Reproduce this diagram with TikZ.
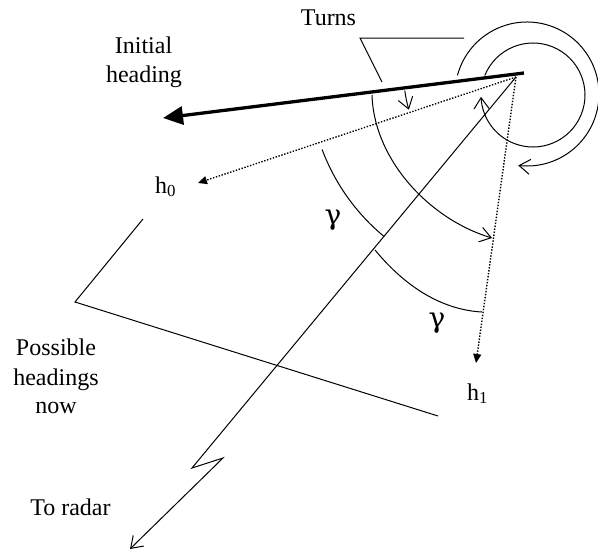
\documentclass[tikz,border=0pt]{standalone}
\usepackage{fontspec}
\setmainfont{Liberation Serif}
\newfontfamily\gfont{DejaVu Serif}
\usetikzlibrary{arrows.meta,bending}
\begin{document}
\begin{tikzpicture}[x=1pt,y=-1pt,
  lbl/.style={font=\fontsize{24}{29}\selectfont, inner sep=0pt, anchor=base},
  glbl/.style={font=\gfont\fontsize{28}{30}\selectfont, inner sep=0pt},
  ln/.style={line width=1pt},
  dotline/.style={line width=1.4pt, dash pattern=on 1.4pt off 1.6pt},
  barb/.style={-{Straight Barb[length=11pt,width=15pt]}},
  dtip/.style={-{Triangle[length=9pt,width=8pt]}},
  ]
\useasboundingbox (0,0) rectangle (598,552);

% key points
\coordinate (O) at (524,73);
\coordinate (P) at (516,77);
\coordinate (ihTip) at (163,118);
\coordinate (h0Tip) at (198,183);
\coordinate (h1Tip) at (476,363);
\coordinate (z1) at (192,468);
\coordinate (z2) at (223,458);
\coordinate (radarTip) at (130,549);
\coordinate (pb1) at (143,219);
\coordinate (pb2) at (75,302);
\coordinate (pb3) at (438,416);
\coordinate (tb1) at (382,82);
\coordinate (tb2) at (360,38);
\coordinate (tb3) at (464,38);

% labels
\node[lbl] (turns) at (328.5,25) {Turns};
\node[lbl] (init1) at (143.5,53) {Initial};
\node[lbl] (init2) at (144,82) {heading};
\node[lbl, anchor=base west] (h0) at (155,193) {h\textsubscript{0}};
\node[lbl, anchor=base west] (h1) at (467,400) {h\textsubscript{1}};
\node[lbl] (poss1) at (56,355) {Possible};
\node[lbl] (poss2) at (56,385) {headings};
\node[lbl] (poss3) at (56,413) {now};
\node[lbl] (radar) at (70.5,515) {To radar};
\node[glbl] (g1) at (333,220) {γ};
\node[glbl] (g2) at (437,323) {γ};

% thick initial heading arrow
\draw[line width=3.3pt, -{Triangle[length=20pt,width=18pt]}] (O) -- (ihTip);

% dotted headings
\draw[dotline, dtip] (P) -- (h0Tip);
\draw[dotline, dtip] (P) -- (h1Tip);

% line to radar with zigzag
\draw[ln, barb] (P) -- (z1) -- (z2) -- (radarTip);

% brackets
\draw[ln] (pb1) -- (pb2) -- (pb3);
\draw[ln] (tb1) -- (tb2) -- (tb3);

% turn circles
\draw[ln, barb] ([shift={(-165:72)}]527,94) arc[start angle=-165, end angle=97, radius=72];
\draw[ln, barb] ([shift={(-158:52)}]533,95) arc[start angle=-158, end angle=178, radius=52];

% small turn arrow
\draw[ln, barb] ([shift={(173:112)}]P) arc[start angle=173, end angle=163, radius=112];

% big turn arrow to h1
\draw[ln, barb] (372,95) .. controls (374,160) and (430,220) .. (492,238);

% gamma arcs
\draw[ln] ([shift={(159.5:207)}]P) arc[start angle=159.5, end angle=129.6, radius=207];
\draw[ln] (375,250) .. controls (408,290) and (445,310) .. (482,312);
\end{tikzpicture}
\end{document}
